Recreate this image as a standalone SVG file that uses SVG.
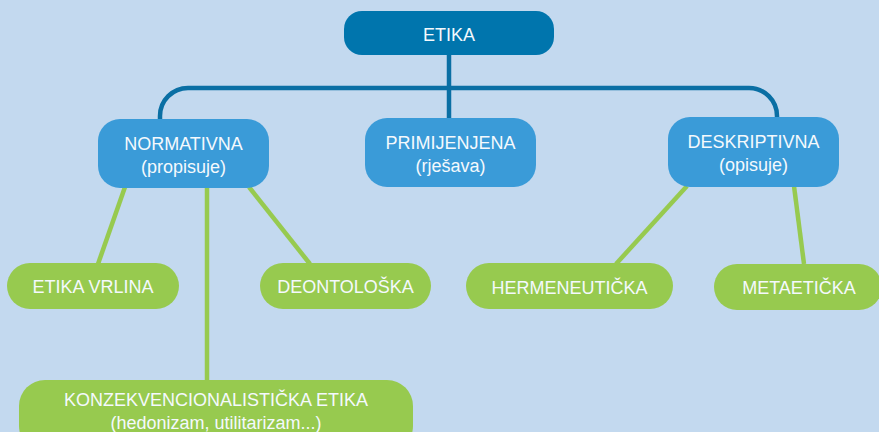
<svg xmlns="http://www.w3.org/2000/svg" width="879" height="432" viewBox="0 0 879 432">
<style>
.bg{fill:#c3d9ef}
.root{fill:#0075ad}
.mid{fill:#3a9bd8}
.leaf{fill:#97ca4f}
.t{font-family:"Liberation Sans",Arial,Helvetica,sans-serif;font-size:18px;fill:#f4f9fd;text-anchor:middle}
.cb{fill:none;stroke:#0a6fa4;stroke-width:4.5}
.cg{fill:none;stroke:#97ca4f;stroke-width:4.5}
</style>
<rect class="bg" x="0" y="0" width="879" height="432"/>
<g id="connectors">
<path class="cb" d="M449,55 V118"/>
<path class="cb" d="M160,120 V116 A28,28 0 0 1 188,88 H749 A28,28 0 0 1 777,116 V119"/>
<path class="cg" d="M125,187 L98,264"/>
<path class="cg" d="M207,187 V381"/>
<path class="cg" d="M249,187 L310,264"/>
<path class="cg" d="M687,186 L616,264"/>
<path class="cg" d="M794,186 L804,264"/>
</g>
<g id="etika">
<rect class="root" x="344" y="11" width="210" height="44" rx="18"/>
<text class="t" x="449" y="41">ETIKA</text>
</g>
<g id="normativna">
<rect class="mid" x="98" y="119" width="171" height="69" rx="22"/>
<text class="t" x="183.5" y="150">NORMATIVNA</text>
<text class="t" x="183.5" y="173">(propisuje)</text>
</g>
<g id="primijenjena">
<rect class="mid" x="365" y="118" width="171" height="69" rx="22"/>
<text class="t" x="450.5" y="149">PRIMIJENJENA</text>
<text class="t" x="450.5" y="172">(rješava)</text>
</g>
<g id="deskriptivna">
<rect class="mid" x="668" y="117" width="171" height="70" rx="22"/>
<text class="t" x="753.5" y="148">DESKRIPTIVNA</text>
<text class="t" x="753.5" y="171">(opisuje)</text>
</g>
<g id="etika-vrlina">
<rect class="leaf" x="7" y="263" width="172" height="46" rx="23"/>
<text class="t" x="93" y="293">ETIKA VRLINA</text>
</g>
<g id="deontoloska">
<rect class="leaf" x="260" y="263" width="171" height="46" rx="23"/>
<text class="t" x="345.5" y="293">DEONTOLOŠKA</text>
</g>
<g id="hermeneuticka">
<rect class="leaf" x="466" y="263" width="207" height="46" rx="23"/>
<text class="t" x="569.5" y="294">HERMENEUTIČKA</text>
</g>
<g id="metaeticka">
<rect class="leaf" x="714" y="264" width="168" height="46" rx="23"/>
<text class="t" x="799" y="294">METAETIČKA</text>
</g>
<g id="konzekvencionalisticka">
<rect class="leaf" x="19" y="380" width="394" height="72" rx="26"/>
<text class="t" x="216" y="406">KONZEKVENCIONALISTIČKA ETIKA</text>
<text class="t" x="216" y="429">(hedonizam, utilitarizam...)</text>
</g>
</svg>
